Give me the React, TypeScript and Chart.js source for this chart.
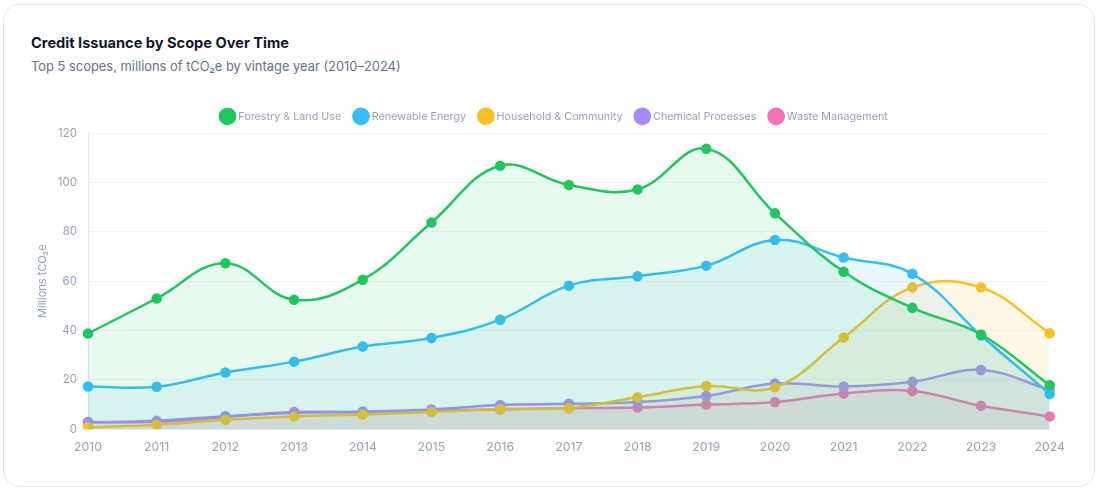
import React, { useEffect, useRef } from "react";
import { Chart, registerables } from "chart.js";

Chart.register(...registerables);

const years = ["2010","2011","2012","2013","2014","2015","2016","2017","2018","2019","2020","2021","2022","2023","2024"];
const forestry = [38.8,53,67.3,52.5,60.6,83.8,106.8,99,97.2,113.7,87.5,63.8,49.2,38.4,17.8];
const renewable = [17.3,17.2,23,27.4,33.5,37,44.4,58.2,62,66.3,76.7,69.6,63,38,14.3];
const household = [0.8,1.8,3.8,5.2,6,7,8.2,8.6,13,17.5,17,37.2,57.5,57.5,38.9];
const chemical = [2.8,3.4,5.3,6.6,7.2,8,9.8,10.3,11,13.5,18.5,17.3,19.2,24,16];
const waste = [2.9,3,5,7,6.8,7.5,8,8.5,8.8,10,11,14.5,15.5,9.5,5.2];

const FONT = "Inter, sans-serif";

function ds(label: string, data: number[], color: string, alpha: string) {
  return {
    label, data,
    borderColor: color,
    backgroundColor: color + alpha,
    pointBackgroundColor: color,
    pointBorderColor: color,
    borderWidth: 2.5,
    pointRadius: 4,
    fill: "origin",
    tension: 0.4,
  };
}

const centreLegend = {
  id: "centreLegend",
  afterLayout(chart: any) {
    chart.legend.left += 5;
    chart.legend.right += 5;
    chart.legend.top -= 1.5;
    chart.legend.bottom -= 1.5;
  },
};

export default function App() {
  const ref = useRef<HTMLCanvasElement>(null);
  useEffect(() => {
    const chart = new Chart(ref.current!, {
      type: "line",
      data: {
        labels: years,
        datasets: [
          ds("Forestry & Land Use", forestry, "#22c55e", "1a"),
          ds("Renewable Energy", renewable, "#38bdf8", "1a"),
          ds("Household & Community", household, "#fbbf24", "1a"),
          ds("Chemical Processes", chemical, "#a78bfa", "1a"),
          ds("Waste Management", waste, "#f472b6", "1a"),
        ] as any,
      },
      plugins: [centreLegend],
      options: {
        animation: false,
        responsive: false,
        layout: { padding: 0 },
        plugins: {
          legend: {
            position: "top",
            labels: {
              usePointStyle: true,
              boxHeight: 13,
              padding: 14.4,
              color: "#94a3b8",
              font: { family: FONT, size: 10.75 },
            },
          },
          tooltip: { enabled: false },
        },
        scales: {
          x: {
            grid: { display: false },
            border: { color: "#e2e8f0" },
            ticks: { color: "#94a3b8", font: { family: FONT, size: 12.3 }, maxRotation: 0 },
          },
          y: {
            min: 0, max: 120,
            afterFit: (s: any) => { s.width = 56; },
            grid: { color: "#f1f5f9", drawTicks: false },
            border: { color: "#e2e8f0" },
            ticks: { stepSize: 20, color: "#94a3b8", padding: 11, font: { family: FONT, size: 11.5 } },
            title: { display: true, text: "Millions tCO₂e", color: "#94a3b8", font: { family: FONT, size: 11 } },
          },
        },
      },
    });
    return () => chart.destroy();
  }, []);
  return (
    <div style={{ position: "fixed", inset: 0, background: "#fff", fontFamily: FONT }}>
      <div style={{ position: "absolute", left: 3, top: 4, width: 1092, height: 483, boxSizing: "border-box", border: "1px solid #e2e8f0", borderRadius: 16 }} />
      <div style={{ position: "absolute", left: 31, top: 33, fontSize: 14.6, lineHeight: "20px", fontWeight: 700, color: "#0f172a", whiteSpace: "nowrap" }}>Credit Issuance by Scope Over Time</div>
      <div style={{ position: "absolute", left: 31, top: 58, fontSize: 12.9, lineHeight: "18px", color: "#64748b", whiteSpace: "nowrap" }}>Top 5 scopes, millions of tCO₂e by vintage year (2010–2024)</div>
      <canvas ref={ref} width={1036} height={360} style={{ position: "absolute", left: 32, top: 98, width: 1036, height: 360 }} />
    </div>
  );
}
